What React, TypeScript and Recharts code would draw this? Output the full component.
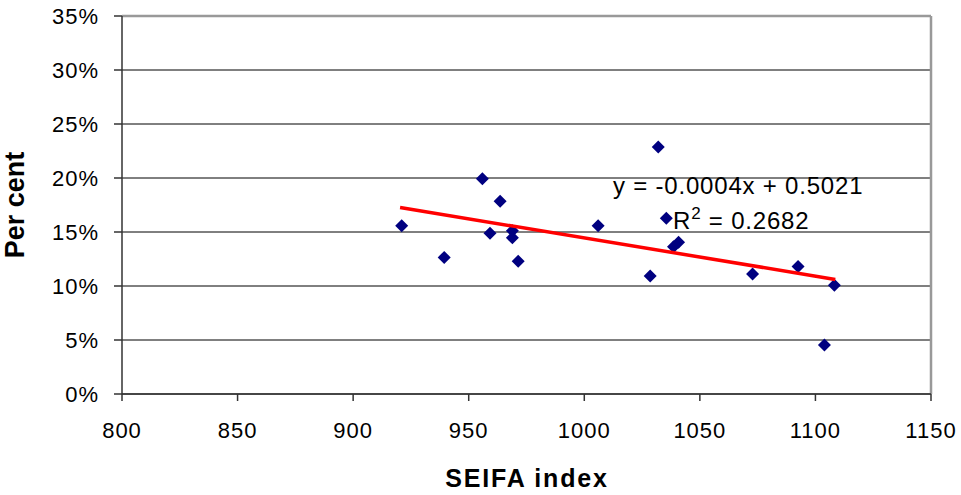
import {
  ScatterChart,
  Scatter,
  XAxis,
  YAxis,
  CartesianGrid,
  ReferenceLine,
  Customized,
} from "recharts";

// SEIFA index of each region
const seifa = [
  921.0, 939.4, 955.9, 963.6, 959.2, 968.9, 968.9, 971.4, 1006.0,
  1032.0, 1028.5, 1035.5, 1038.6, 1040.8, 1072.8, 1092.5, 1108.2, 1103.9,
];
// share, as a fraction
const perCent = [
  0.1557, 0.1265, 0.1992, 0.1785, 0.1489, 0.1511, 0.1446, 0.123, 0.1557,
  0.2288, 0.1092, 0.1628, 0.1363, 0.1406, 0.111, 0.1181, 0.1006, 0.0453,
];
// linear trend end points
const trendX = [920.3, 1108.6];
const trendY = [0.1727, 0.1061];

const xTicks = [800, 850, 900, 950, 1000, 1050, 1100, 1150];
const yTicks = [0, 0.05, 0.1, 0.15, 0.2, 0.25, 0.3, 0.35];

const points = seifa.map((x, i) => ({ x, y: perCent[i] }));
const trend = trendX.map((x, i) => ({ x, y: trendY[i] }));

const FONT = "'Liberation Sans', Arial, sans-serif";
const tickStyle = { fill: "#000", fontSize: 22, fontFamily: FONT, letterSpacing: 1 };

const Diamond = (props: any) => {
  const { cx, cy } = props;
  const r = 6.5;
  return (
    <polygon
      points={`${cx},${cy - r} ${cx + r},${cy} ${cx},${cy + r} ${cx - r},${cy}`}
      fill="#000080"
    />
  );
};

const Texts = () => (
  <g fontFamily={FONT} fill="#000">
    <text x={613} y={194} fontSize={24} letterSpacing={0.8}>
      y = -0.0004x + 0.5021
    </text>
    <text x={673} y={229} fontSize={24} letterSpacing={0.8}>
      R
      <tspan fontSize={17} dy={-10}>
        2
      </tspan>
      <tspan dy={10}> = 0.2682</tspan>
    </text>
    <text
      x={527}
      y={487}
      fontSize={25}
      fontWeight="bold"
      textAnchor="middle"
      letterSpacing={1.8}
    >
      SEIFA index
    </text>
    <text
      transform="translate(24,205) rotate(-90)"
      fontSize={27}
      fontWeight="bold"
      textAnchor="middle"
    >
      Per cent
    </text>
  </g>
);

export default function App() {
  return (
    <div style={{ position: "absolute", left: 0, top: 0, background: "#fff" }}>
      <ScatterChart
        width={961}
        height={495}
        margin={{ top: 16, right: 30, bottom: 0, left: 0 }}
      >
        <CartesianGrid vertical={false} stroke="#000" strokeWidth={1} />
        <XAxis
          type="number"
          dataKey="x"
          domain={[800, 1150]}
          ticks={xTicks}
          height={101}
          tickSize={7}
          tickMargin={21}
          tick={tickStyle}
          stroke="#333"
          strokeWidth={1.5}
          interval={0}
        />
        <YAxis
          type="number"
          dataKey="y"
          domain={[0, 0.35]}
          ticks={yTicks}
          width={122}
          tickSize={8}
          tickMargin={15}
          tick={tickStyle}
          tickFormatter={(v: number) => `${Math.round(v * 100)}%`}
          stroke="#333"
          strokeWidth={1.5}
          interval={0}
        />
        <ReferenceLine y={0.35} stroke="#999" strokeWidth={2.5} />
        <ReferenceLine x={1150} stroke="#999" strokeWidth={2.5} />
        <Scatter data={points} shape={<Diamond />} isAnimationActive={false} />
        <Scatter
          data={trend}
          line={{ stroke: "#ff0000", strokeWidth: 3.5 }}
          shape={() => <g />}
          isAnimationActive={false}
        />
        <Customized component={Texts} />
      </ScatterChart>
    </div>
  );
}
